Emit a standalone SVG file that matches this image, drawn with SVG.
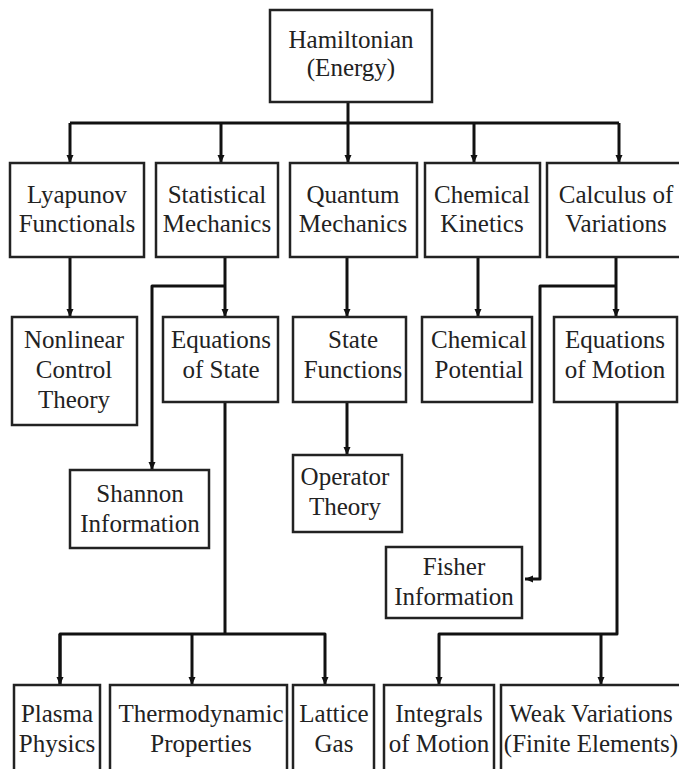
<svg xmlns="http://www.w3.org/2000/svg" width="679" height="769" viewBox="0 0 679 769" font-family="Liberation Serif, Times New Roman, Times, serif">
<style>
.box{fill:#fff;stroke:#222;stroke-width:2.5}
.t{font-size:25px;fill:#222;text-anchor:middle}
.c{fill:none;stroke:#111;stroke-width:3;stroke-linejoin:round}
</style>
<defs>
<marker id="ah" markerUnits="userSpaceOnUse" markerWidth="9" markerHeight="9" refX="8" refY="4" orient="auto">
<path d="M0,0.5 L8,4 L0,7.5 z" fill="#111"/>
</marker>
</defs>
<rect width="679" height="769" fill="#fff"/>
<g id="connectors">
<path class="c" d="M348,102 V123"/>
<path class="c" d="M70,123 H619"/>
<path class="c" d="M70,123 V163" marker-end="url(#ah)"/>
<path class="c" d="M221,123 V163" marker-end="url(#ah)"/>
<path class="c" d="M348,123 V163" marker-end="url(#ah)"/>
<path class="c" d="M474,123 V163" marker-end="url(#ah)"/>
<path class="c" d="M619,123 V163" marker-end="url(#ah)"/>
<path class="c" d="M70,257 V317" marker-end="url(#ah)"/>
<path class="c" d="M225,257 V317" marker-end="url(#ah)"/>
<path class="c" d="M225,286 H152 V470" marker-end="url(#ah)"/>
<path class="c" d="M347,257 V317" marker-end="url(#ah)"/>
<path class="c" d="M347,402 V455" marker-end="url(#ah)"/>
<path class="c" d="M478,257 V317" marker-end="url(#ah)"/>
<path class="c" d="M616,257 V317" marker-end="url(#ah)"/>
<path class="c" d="M616,286 H540 V579 H525" marker-end="url(#ah)"/>
<path class="c" d="M225,402 V634"/>
<path class="c" d="M60,685 V634 H325 V685" marker-end="url(#ah)"/>
<path class="c" d="M60,634 V685" marker-end="url(#ah)"/>
<path class="c" d="M192,634 V685" marker-end="url(#ah)"/>
<path class="c" d="M617,402 V634 H439 V685" marker-end="url(#ah)"/>
<path class="c" d="M601,634 V685" marker-end="url(#ah)"/>
</g>
<g id="hamiltonian"><rect class="box" x="270" y="10" width="162" height="92"/><text class="t" x="351" y="48">Hamiltonian</text><text class="t" x="351" y="76">(Energy)</text></g>
<g id="lyapunov"><rect class="box" x="10" y="163" width="134" height="94"/><text class="t" x="77" y="203">Lyapunov</text><text class="t" x="77" y="232">Functionals</text></g>
<g id="statistical"><rect class="box" x="156" y="163" width="122" height="94"/><text class="t" x="217" y="203">Statistical</text><text class="t" x="217" y="232">Mechanics</text></g>
<g id="quantum"><rect class="box" x="290" y="163" width="127" height="94"/><text class="t" x="353" y="203">Quantum</text><text class="t" x="353" y="232">Mechanics</text></g>
<g id="chemkin"><rect class="box" x="425" y="163" width="115" height="94"/><text class="t" x="482" y="203">Chemical</text><text class="t" x="482" y="232">Kinetics</text></g>
<g id="calculus"><rect class="box" x="547" y="163" width="140" height="94"/><text class="t" x="616" y="203">Calculus of</text><text class="t" x="616" y="232">Variations</text></g>
<g id="nonlinear"><rect class="box" x="12" y="317" width="125" height="108"/><text class="t" x="74" y="348">Nonlinear</text><text class="t" x="74" y="378">Control</text><text class="t" x="74" y="408">Theory</text></g>
<g id="eqstate"><rect class="box" x="163" y="317" width="115" height="85"/><text class="t" x="221" y="348">Equations</text><text class="t" x="221" y="378">of State</text></g>
<g id="statefn"><rect class="box" x="293" y="317" width="113" height="85"/><text class="t" x="353" y="348">State</text><text class="t" x="353" y="378">Functions</text></g>
<g id="chempot"><rect class="box" x="422" y="317" width="110" height="85"/><text class="t" x="479" y="348">Chemical</text><text class="t" x="479" y="378">Potential</text></g>
<g id="eqmotion"><rect class="box" x="554" y="317" width="123" height="85"/><text class="t" x="615" y="348">Equations</text><text class="t" x="615" y="378">of Motion</text></g>
<g id="operator"><rect class="box" x="293" y="455" width="109" height="77"/><text class="t" x="345" y="485">Operator</text><text class="t" x="345" y="515">Theory</text></g>
<g id="shannon"><rect class="box" x="70" y="470" width="139" height="78"/><text class="t" x="140" y="502">Shannon</text><text class="t" x="140" y="532">Information</text></g>
<g id="fisher"><rect class="box" x="386" y="547" width="136" height="71"/><text class="t" x="454" y="575">Fisher</text><text class="t" x="454" y="605">Information</text></g>
<g id="plasma"><rect class="box" x="14" y="685" width="86" height="95"/><text class="t" x="57" y="722">Plasma</text><text class="t" x="57" y="752">Physics</text></g>
<g id="thermo"><rect class="box" x="110" y="685" width="177" height="95"/><text class="t" x="201" y="722">Thermodynamic</text><text class="t" x="201" y="752">Properties</text></g>
<g id="lattice"><rect class="box" x="293" y="685" width="81" height="95"/><text class="t" x="334" y="722">Lattice</text><text class="t" x="334" y="752">Gas</text></g>
<g id="integrals"><rect class="box" x="384" y="685" width="110" height="95"/><text class="t" x="439" y="722">Integrals</text><text class="t" x="439" y="752">of Motion</text></g>
<g id="weak"><rect class="box" x="501" y="685" width="185" height="95"/><text class="t" x="591" y="722">Weak Variations</text><text class="t" x="591" y="752">(Finite Elements)</text></g>
</svg>
